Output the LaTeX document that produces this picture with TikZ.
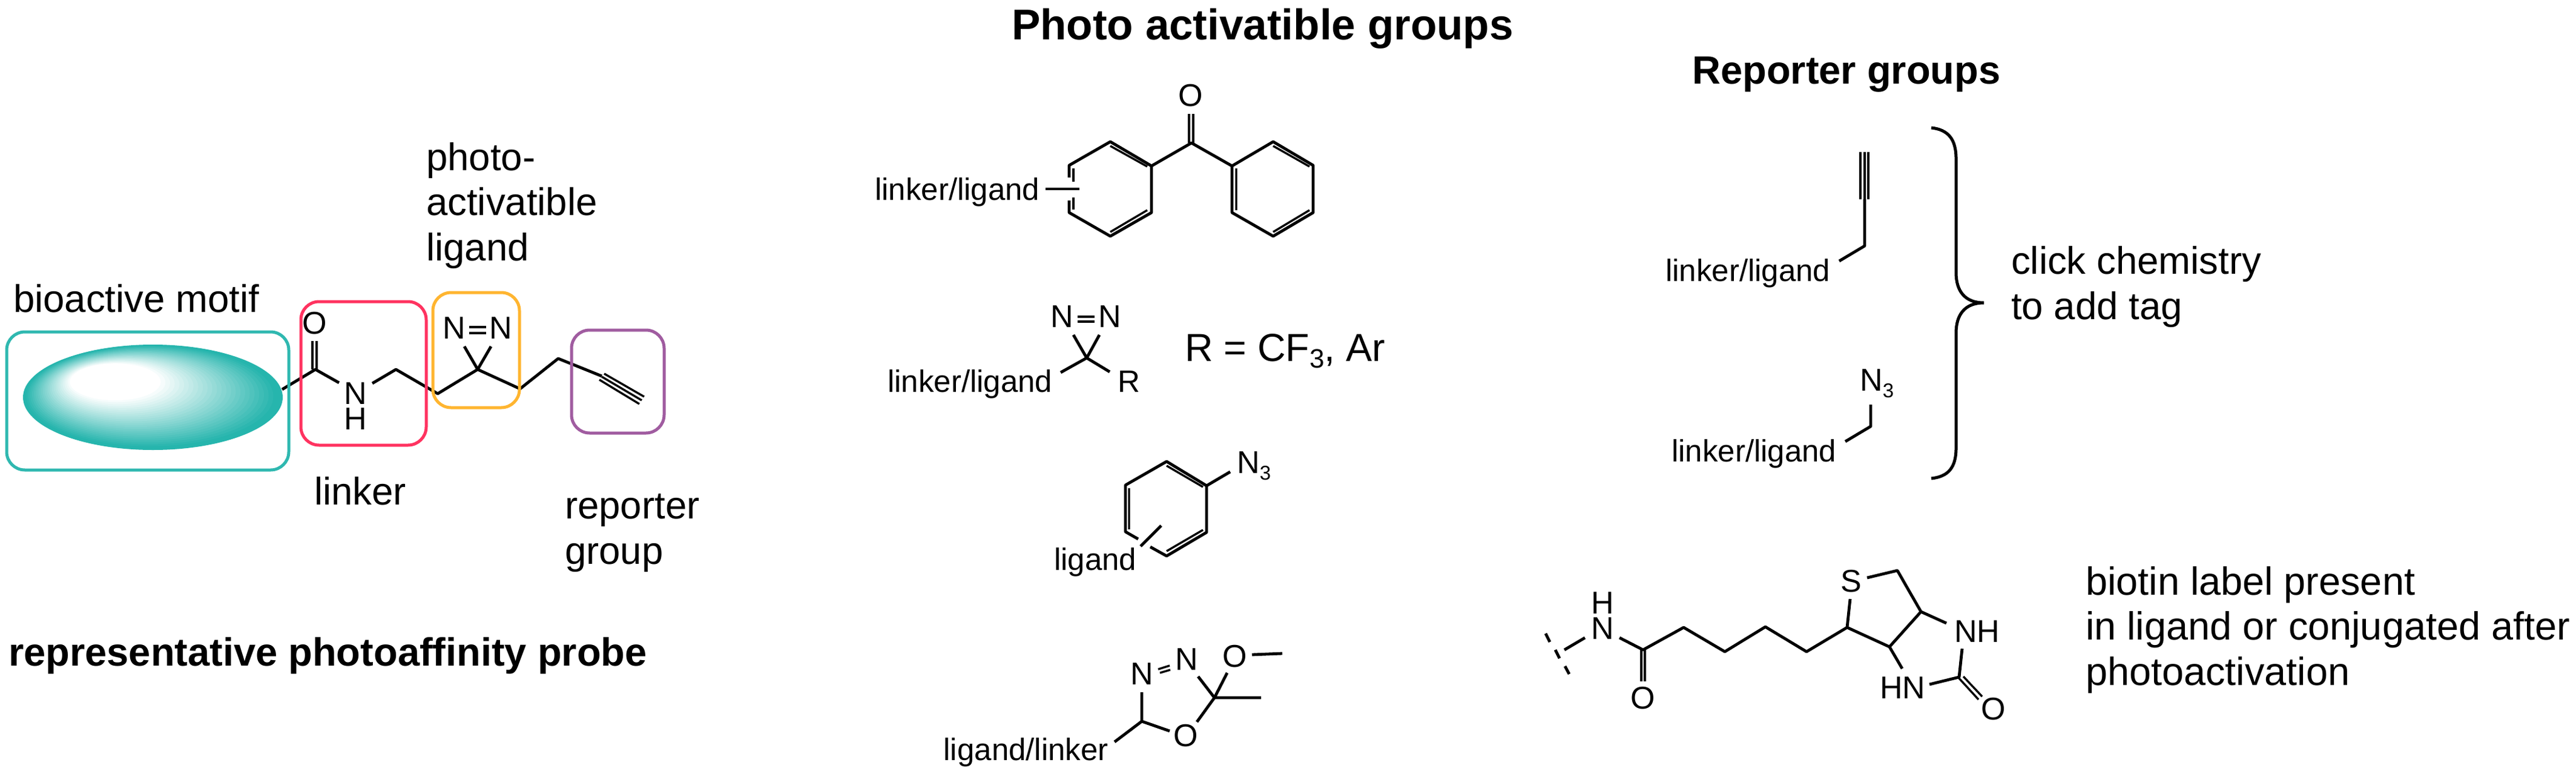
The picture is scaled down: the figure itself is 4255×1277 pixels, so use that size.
\documentclass[tikz,border=0pt]{standalone}
\usepackage{fontspec}
\setmainfont{Liberation Sans}
\newcommand{\subsm}{\raisebox{-11pt}{\fontsize{33}{33}\selectfont 3}}
\newcommand{\sublg}{\raisebox{-11pt}{\fontsize{44}{44}\selectfont 3}}
\definecolor{tealc}{HTML}{26B5AD}
\definecolor{boxteal}{HTML}{2FB8B0}
\definecolor{boxred}{HTML}{FF3360}
\definecolor{boxorange}{HTML}{FFB530}
\definecolor{boxpurple}{HTML}{A05CA0}
\tikzset{
  bond/.style={line width=4.8pt, line join=round, line cap=butt},
  thin bond/.style={line width=3.4pt, line cap=butt},
  regionbox/.style={line width=5pt, rounded corners=30pt},
  atom/.style={font=\fontsize{52}{52}\selectfont, inner sep=0pt},
  stacked/.style={font=\fontsize{52}{42}\selectfont, inner sep=0pt, align=center, anchor=base},
  small/.style={font=\fontsize{51}{51}\selectfont, inner sep=0pt, anchor=base west},
  big/.style={font=\fontsize{63.5}{74.5}\selectfont, inner sep=0pt, anchor=base west, align=left},
  head/.style={font=\fontsize{65}{65}\bfseries\selectfont, inner sep=0pt, anchor=base west},
  title/.style={font=\fontsize{71}{71}\bfseries\selectfont, inner sep=0pt, anchor=base west}
}
\begin{document}
\begin{tikzpicture}[x=1pt,y=-1pt]
\useasboundingbox (0,0) rectangle (4255,1277);

% --- probe ---
\foreach \i in {0,...,39}{
  \pgfmathsetmacro\tt{\i/40}
  \pgfmathsetmacro\mm{max(0,min(100,100*(0.65-\tt)/0.62))}
  \fill[tealc!\mm!white] ({252.5-95.5*\tt},{656-39*\tt}) ellipse [x radius={214.5*(1-\tt)}, y radius={87*(1-\tt)}];
}
\draw[bond] (466,643) -- (521,610) -- (560,632);
\draw[thin bond] (516,563) -- (516,610) (523,563) -- (523,610);
\node[atom] (pO) at (519.5,534) {O};
\node[stacked] (pNH) at (587,709) {N\\H};
\draw[bond] (615,633) -- (654,610) -- (723,650) -- (789,610) -- (859,642) -- (922,592) -- (994,621);
\draw[bond] (789,610) -- (767,572) (789,610) -- (811,572);
\node[atom] (pN1) at (750,542) {N};
\node[atom] (pN2) at (827,542) {N};
\draw[thin bond] (775,540) -- (803,540) (775,550) -- (803,550);
\draw[thin bond] (990,627) -- (1056,667) (994,622) -- (1060,661) (998,617) -- (1064,655);

\draw[regionbox, boxteal] (11,548) rectangle (477,776);
\draw[regionbox, boxred] (497,498) rectangle (704,735);
\draw[regionbox, boxorange] (715,483) rectangle (858,673);
\draw[regionbox, boxpurple] (944,545) rectangle (1097,715);

\node[big] (lPhoto) at (704,430) {photo-\\activatible\\ligand};
\node[big] (lBio) at (22,515) {bioactive motif};
\node[big] (lLinker) at (519,833) {linker};
\node[big] (lRep) at (933,931) {reporter\\group};
\node[head] (lProbe) at (14,1099) {representative photoaffinity probe};

% --- photo activatable ---
\node[title] (tPhoto) at (1671,65) {Photo activatible groups};

\node[atom] (bO) at (1967,158) {O};
\draw[thin bond] (1964,188) -- (1964,236) (1971,188) -- (1971,236);
\draw[bond] (1902,274) -- (1968,236) -- (2035,274);
\draw[bond] (1766,293) -- (1766,273) -- (1834,234) -- (1902,274) -- (1902,351) -- (1834,390) -- (1766,351) -- (1766,331);
\draw[thin bond] (1773,278) -- (1773,300) (1773,326) -- (1773,346);
\draw[thin bond] (1834,241) -- (1895,275) (1834,383) -- (1895,347);
\draw[bond] (1727,312) -- (1783,312);
\draw[bond] (2035,274) -- (2103,234) -- (2169,273) -- (2169,351) -- (2103,390) -- (2035,351) -- cycle;
\draw[thin bond] (2042,278) -- (2042,347) (2103,241) -- (2163,275) (2103,383) -- (2163,347);
\node[small] (bL) at (1445,330) {linker/ligand};

\node[atom] (dN1) at (1754,523) {N};
\node[atom] (dN2) at (1833,523) {N};
\draw[thin bond] (1780,523) -- (1808,523) (1780,531) -- (1808,531);
\draw[bond] (1773,553) -- (1795,591) -- (1816,553);
\draw[bond] (1752,615) -- (1795,591) -- (1833,614);
\node[small] (dL) at (1466,647) {linker/ligand};
\node[small] (dR) at (1846,647) {R};
\node[big, font=\fontsize{64.5}{74.5}\selectfont] (dEq) at (1957,596) {R = CF\sublg, Ar};

\draw[bond] (1993,802) -- (2032,779);
\node[small, font=\fontsize{52}{52}\selectfont] (aN) at (2043,781) {N\subsm};
\draw[bond] (1880,890) -- (1859,878) -- (1859,801) -- (1927,762) -- (1993,802) -- (1993,879) -- (1927,918) -- (1900,903);
\draw[thin bond] (1927,769) -- (1987,804) (1865,806) -- (1865,874) (1927,910) -- (1987,875);
\draw[bond] (1884,902) -- (1918,868);
\node[small] (aL) at (1741,941) {ligand};

\node[atom] (oN1) at (1886,1113) {N};
\node[atom] (oN2) at (1960,1089) {N};
\node[atom] (oO1) at (2040,1084) {O};
\node[atom] (oO2) at (1959,1215) {O};
\draw[thin bond] (1913,1105) -- (1932,1099) (1916,1111) -- (1933,1106);
\draw[bond] (1886,1143) -- (1886,1191) -- (1932,1207);
\draw[bond] (1841,1225) -- (1886,1191);
\draw[bond] (1977,1192) -- (2006,1152) -- (1979,1117);
\draw[bond] (2027,1111) -- (2006,1152) -- (2083,1152);
\draw[bond] (2068,1081) -- (2118,1079);
\node[small, anchor=base east] (oL) at (1831,1255) {ligand/linker};

% --- reporter groups ---
\node[head] (tRep) at (2795,138) {Reporter groups};
\draw[thin bond] (3073,251) -- (3073,329) (3080,251) -- (3080,329) (3086,251) -- (3086,329);
\draw[bond] (3080,329) -- (3080,406) -- (3038,431);
\node[small] (rL1) at (2751,464) {linker/ligand};
\node[small, font=\fontsize{52}{52}\selectfont] (rN) at (3072,645) {N\subsm};
\draw[bond] (3090,668) -- (3090,704) -- (3048,729);
\node[small] (rL2) at (2761,762) {linker/ligand};
\draw[line width=5pt] (3190,211) .. controls (3218,214) and (3231,230) .. (3231,262)
  -- (3231,450) .. controls (3231,480) and (3245,500) .. (3277,500)
  .. controls (3245,500) and (3231,520) .. (3231,550)
  -- (3231,740) .. controls (3231,772) and (3218,787) .. (3190,790);
\node[big] (rClick) at (3322,527) {click chemistry\\to add tag};

% --- biotin ---
\draw[bond] (2553,1046) -- (2560,1060) (2569,1073) -- (2576,1087) (2585,1100) -- (2592,1113);
\draw[bond] (2584,1073) -- (2618,1053);
\node[stacked] (btNH1) at (2647,1055) {H\\N};
\draw[bond] (2675,1053) -- (2714,1073) -- (2781,1036) -- (2849,1076) -- (2916,1035) -- (2984,1076) -- (3051,1036);
\draw[thin bond] (2711,1073) -- (2711,1125) (2717,1073) -- (2717,1125);
\node[atom] (btO1) at (2714,1153) {O};
\node[atom] (btS) at (3058,960) {S};
\draw[bond] (3056,989) -- (3051,1036) -- (3121,1068) -- (3173,1010) -- (3134,942) -- (3084,954);
\draw[bond] (3173,1010) -- (3215,1029);
\draw[bond] (3121,1068) -- (3142,1104);
\node[small, font=\fontsize{52}{52}\selectfont] (btNH) at (3228,1060) {NH};
\node[small, font=\fontsize{52}{52}\selectfont] (btHN) at (3105,1153) {HN};
\draw[bond] (3187,1130) -- (3236,1118) -- (3241,1071);
\draw[thin bond] (3235,1119) -- (3268,1155) (3243,1117) -- (3274,1150);
\node[atom] (btO2) at (3293,1171) {O};
\node[big, font=\fontsize{64.8}{74.5}\selectfont] (btText) at (3445,1131) {biotin label present\\in ligand or conjugated after\\photoactivation};
\end{tikzpicture}
\end{document}
